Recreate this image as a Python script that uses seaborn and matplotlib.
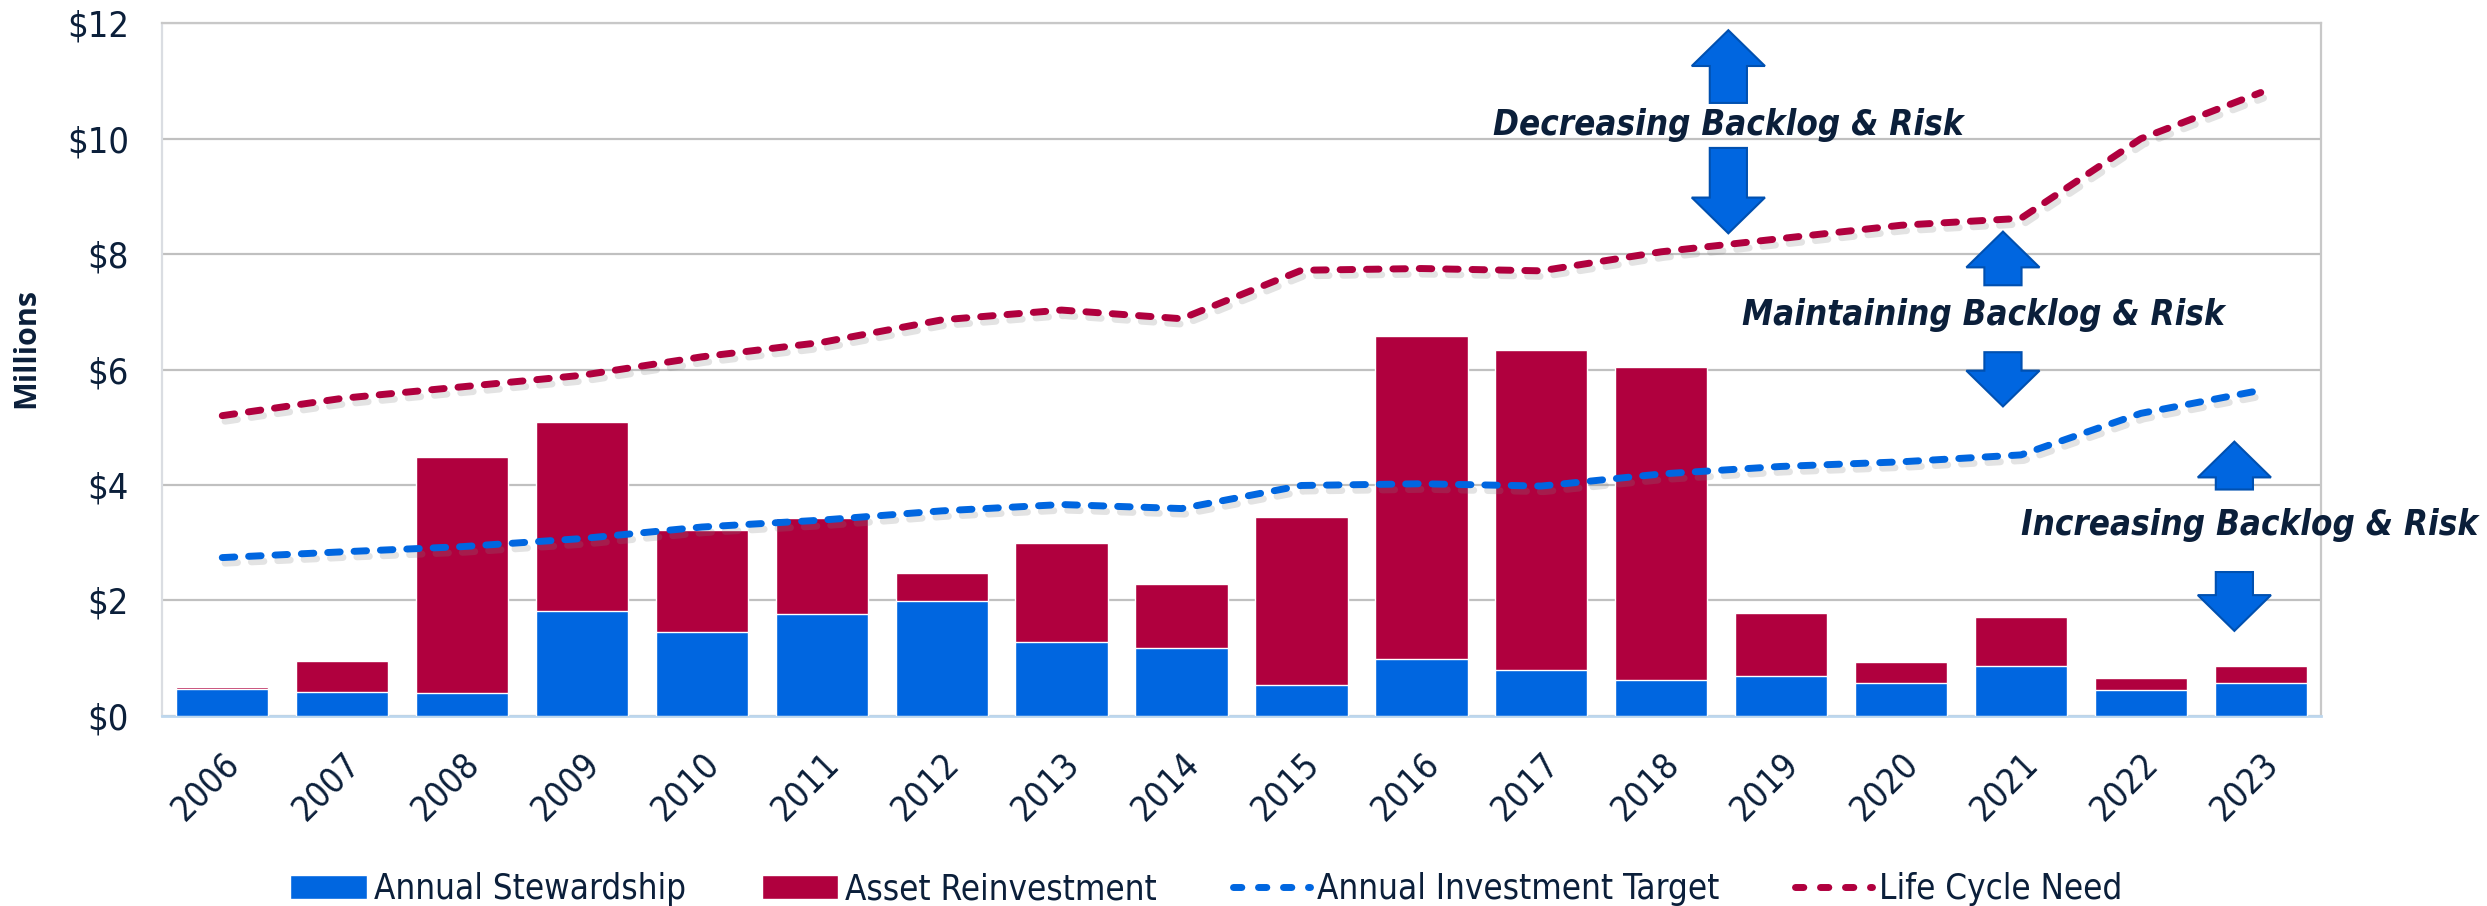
import matplotlib
matplotlib.use("Agg")
import matplotlib.pyplot as plt
import matplotlib.patheffects as pe
from matplotlib.patches import Patch, FancyArrow
from matplotlib.lines import Line2D
import numpy as np
import seaborn as sns

# ---------------------------------------------------------------
# data ($ millions)
# ---------------------------------------------------------------
years = [str(y) for y in range(2006, 2024)]
stewardship = [0.47, 0.41, 0.40, 1.82, 1.45, 1.77, 1.98, 1.28, 1.17,
               0.54, 0.98, 0.79, 0.62, 0.68, 0.56, 0.86, 0.44, 0.56]
reinvestment = [0.02, 0.53, 4.08, 3.27, 1.77, 1.66, 0.50, 1.72, 1.11,
                2.91, 5.60, 5.55, 5.42, 1.10, 0.37, 0.85, 0.22, 0.30]
investment_target = [2.74, 2.84, 2.93, 3.07, 3.27, 3.39, 3.55, 3.66, 3.59,
                     3.99, 4.02, 3.98, 4.19, 4.32, 4.40, 4.52, 5.24, 5.64]
life_cycle_need = [5.20, 5.50, 5.70, 5.90, 6.22, 6.47, 6.86, 7.03, 6.88,
                   7.72, 7.75, 7.71, 8.04, 8.27, 8.50, 8.62, 10.00, 10.80]

BLUE = "#0066E0"
RED = "#B0003E"
TEXT = "#0B1F3A"
GRID = "#C0C0C0"

sns.set_theme(style="white")
# narrow face, closest to the original Calibri look
plt.rcParams["font.family"] = ["DejaVu Sans"]
plt.rcParams["font.stretch"] = "condensed"

fig = plt.figure(figsize=(24.87, 9.06), dpi=100)
ax = fig.add_axes([0.06526, 0.21004, 0.86788, 0.76424])

total = np.array(stewardship) + np.array(reinvestment)

# stacked bars: total (red) first, stewardship (blue) on top of it
sns.barplot(x=years, y=total, color=RED, saturation=1, width=0.77,
            errorbar=None, ax=ax, zorder=2)
sns.barplot(x=years, y=stewardship, color=BLUE, saturation=1, width=0.77,
            errorbar=None, ax=ax, zorder=3)

idx = np.arange(len(years))
shadow = [pe.SimpleLineShadow(offset=(2, -4), shadow_color="#808080", alpha=0.22),
          pe.Normal()]
for vals, col in [(investment_target, BLUE), (life_cycle_need, RED)]:
    ax.plot(idx, vals, color=col, lw=5, dashes=(1.8, 2.0),
            dash_capstyle="round", zorder=4, path_effects=shadow)

ax.set_xlim(-0.5, len(years) - 0.5)
ax.set_ylim(0, 12)
ax.set_yticks(range(0, 13, 2))
ax.set_yticklabels([f"${v}" for v in range(0, 13, 2)])
ax.yaxis.grid(True, color=GRID, lw=1.6, zorder=0)
ax.set_axisbelow(True)
ax.set_xlabel("")
ax.set_ylabel("Millions", fontsize=22, fontweight="bold", color=TEXT,
              family="Open Sans")
ax.yaxis.set_label_coords(-0.056, 0.531)

ax.tick_params(axis="y", length=0, pad=24, labelsize=26, labelcolor=TEXT)
ax.tick_params(axis="x", length=0, pad=22, labelsize=25, labelcolor=TEXT)
for lab in ax.get_xticklabels():
    lab.set_rotation(45)
    lab.set_ha("right")
    lab.set_va("top")
    lab.set_rotation_mode("anchor")

for side in ["top", "right", "left"]:
    ax.spines[side].set_color("#C8C8C8")
    ax.spines[side].set_linewidth(1.6)
ax.spines["left"].set_color("#DADDE2")
ax.spines["bottom"].set_color("#BDD7EE")
ax.spines["bottom"].set_linewidth(2)

# ---------------------------------------------------------------
# annotations
# ---------------------------------------------------------------
def arrow(x, y_from, y_to):
    ax.add_patch(FancyArrow(x, y_from, 0, y_to - y_from, width=0.31,
                            head_width=0.61, head_length=0.62,
                            length_includes_head=True, facecolor=BLUE,
                            edgecolor="#0050B0", lw=1.5, zorder=6,
                            clip_on=False))

arrow(12.56, 10.62, 11.88)
arrow(12.56, 9.84, 8.36)
arrow(14.85, 7.46, 8.39)
arrow(14.85, 6.30, 5.36)
arrow(16.78, 3.92, 4.75)
arrow(16.78, 2.49, 1.47)

note_kw = dict(ha="center", va="center", fontsize=25, fontweight="bold",
               fontstyle="italic", color=TEXT, zorder=7, clip_on=False)
ax.text(12.56, 10.24, "Decreasing Backlog & Risk", **note_kw)
ax.text(14.69, 6.94, "Maintaining Backlog & Risk", **note_kw)
ax.text(16.91, 3.30, "Increasing Backlog & Risk", **note_kw)

# ---------------------------------------------------------------
# legend
# ---------------------------------------------------------------
handles = [
    Patch(facecolor=BLUE, label="Annual Stewardship"),
    Patch(facecolor=RED, label="Asset Reinvestment"),
    Line2D([], [], color=BLUE, lw=5, dashes=(1.2, 2.4), dash_capstyle="round",
           label="Annual Investment Target"),
    Line2D([], [], color=RED, lw=5, dashes=(1.2, 2.4), dash_capstyle="round",
           label="Life Cycle Need"),
]
fig.legend(handles=handles, loc="lower center", ncol=4, frameon=False,
           bbox_to_anchor=(0.485, -0.035), fontsize=25, labelcolor=TEXT,
           handlelength=2.2, handleheight=0.7, handletextpad=0.2,
           columnspacing=2.2)

fig.savefig("out.png", dpi=100)
